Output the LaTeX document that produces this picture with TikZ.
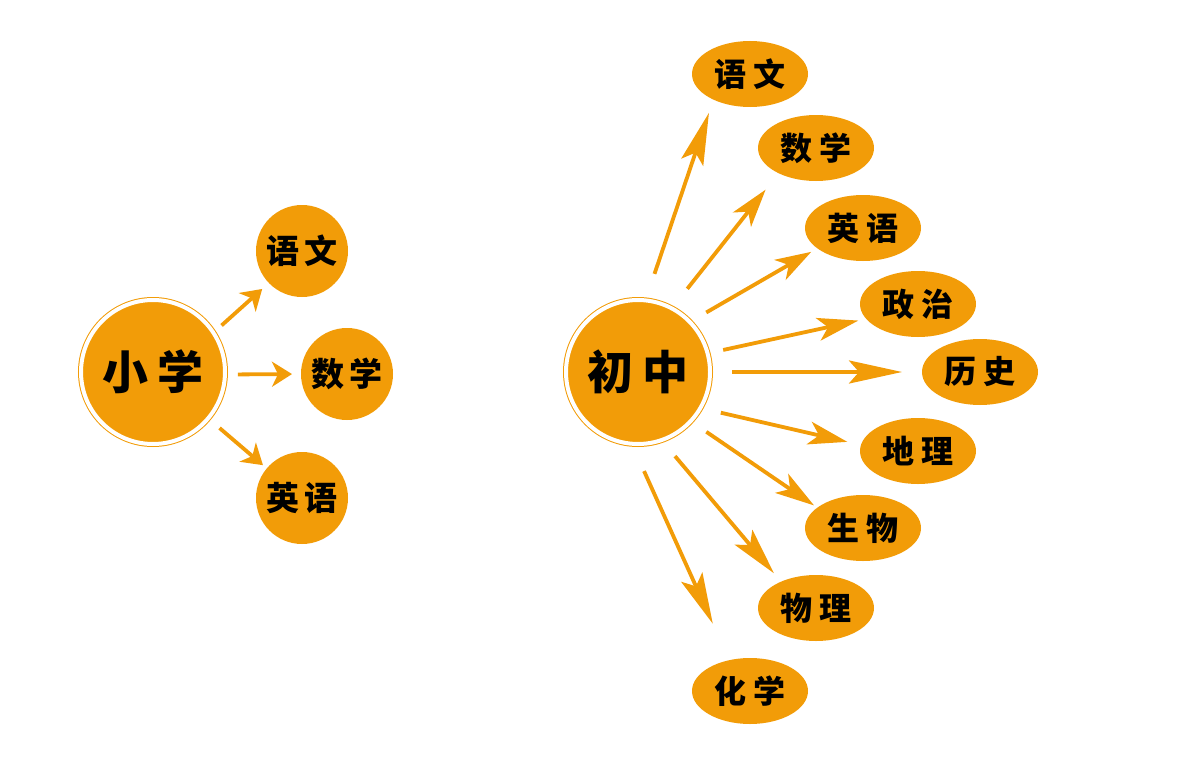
\documentclass[tikz,border=0pt]{standalone}
\usepackage{fontspec}
\newfontfamily\cjk{Noto Sans CJK SC}
\usetikzlibrary{shapes.geometric,arrows.meta}
\definecolor{subj}{RGB}{242,156,8}
\begin{document}
\begin{tikzpicture}[x=1pt,y=-1pt,
	big/.style={circle,fill=subj,draw=subj,line width=1pt,double=white,double distance=4pt,
		minimum size=144pt,inner sep=0pt,outer sep=0pt,font=\cjk\bfseries\fontsize{46}{46}\selectfont},
	ball/.style={circle,fill=subj,minimum size=92pt,inner sep=0pt,outer sep=0pt,
		font=\cjk\bfseries\fontsize{33}{33}\selectfont},
	oval/.style={ellipse,fill=subj,minimum width=116pt,minimum height=66pt,inner sep=0pt,
		outer sep=0pt,font=\cjk\bfseries\fontsize{32}{32}\selectfont},
	larr/.style={draw=subj,line width=3.8pt,-{Stealth[length=20pt,width=25pt,inset=6pt]}},
	rarr/.style={draw=subj,line width=3.8pt,-{Stealth[length=#1,width=23pt,inset=10pt]}}]
\useasboundingbox (0,0) rectangle (1200,760);
% primary school
\node[big] (xx) at (153,372) {小\hspace{9pt}学};
\node[ball] (xyw) at (302,251) {语\hspace{5pt}文};
\node[ball] (xsx) at (347,374) {数\hspace{5pt}学};
\node[ball] (xyy) at (302,498) {英\hspace{5pt}语};
\draw[larr,shorten <=11pt,shorten >=9pt] (xx.33) -- (xyw.224);
\draw[larr,shorten <=13pt,shorten >=9pt] (xx.-2) -- (xsx.180);
\draw[larr,shorten <=15pt,shorten >=5pt] (xx.-40) -- (xyy.140);
% junior high
\node[big] (cz) at (638,372) {初\hspace{9pt}中};
\node[oval] (yw) at (750,74) {语\hspace{7pt}文};
\node[oval] (sx) at (816,148) {数\hspace{7pt}学};
\node[oval] (yy) at (863,228) {英\hspace{7pt}语};
\node[oval] (zz) at (918,304) {政\hspace{7pt}治};
\node[oval] (ls) at (980,372) {历\hspace{7pt}史};
\node[oval] (dl) at (918,451) {地\hspace{7pt}理};
\node[oval] (sw) at (863,528) {生\hspace{7pt}物};
\node[oval] (wl) at (816,608) {物\hspace{7pt}理};
\node[oval] (hx) at (750,691) {化\hspace{7pt}学};
\draw[rarr=52pt,shorten <=28pt,shorten >=14pt] (cz.84) -- (yw.215);
\draw[rarr=38pt,shorten <=25pt,shorten >=21pt] (cz.62) -- (sx.214);
\draw[rarr=36pt,shorten <=19pt,shorten >=7pt] (cz.44) -- (yy.204);
\draw[rarr=41pt,shorten <=16pt,shorten >=8pt] (cz.15) -- (zz.196);
\draw[rarr=53pt,shorten <=22pt,shorten >=20pt] (cz.0) -- (ls.180);
\draw[rarr=39pt,shorten <=21pt,shorten >=14pt] (cz.-30) -- (dl.174);
\draw[rarr=39pt,shorten <=19pt,shorten >=4pt] (cz.-43) -- (sw.156);
\draw[rarr=47pt,shorten <=21pt,shorten >=11pt] (cz.-71) -- (wl.143);
\draw[rarr=51pt,shorten <=30pt,shorten >=40pt] (cz.-95) -- (hx.124);
\end{tikzpicture}
\end{document}
